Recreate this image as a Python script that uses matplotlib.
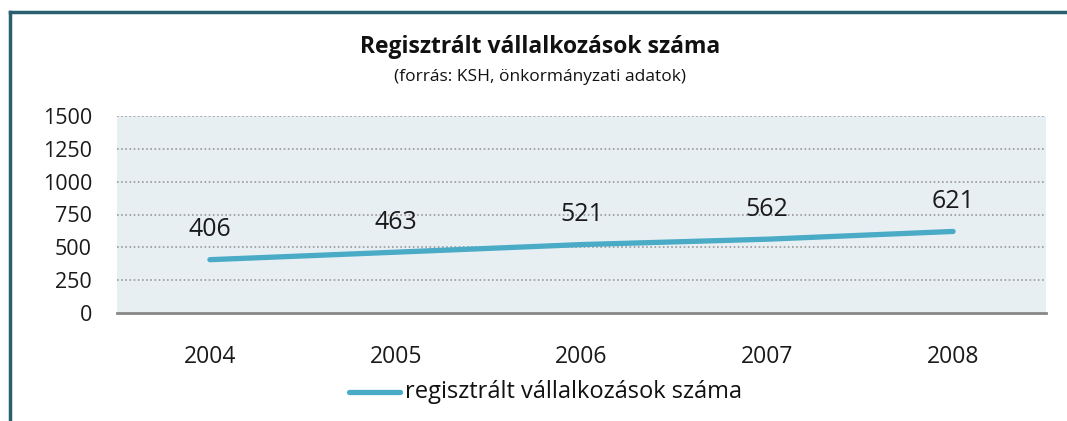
import matplotlib
matplotlib.use("Agg")
import matplotlib.pyplot as plt
from matplotlib.lines import Line2D

# data
years = ["2004", "2005", "2006", "2007", "2008"]
counts = [406, 463, 521, 562, 621]
yticks = [0, 250, 500, 750, 1000, 1250, 1500]

plt.rcParams["font.family"] = ["Open Sans", "DejaVu Sans"]

W, H = 1067, 421
fig = plt.figure(figsize=(W / 100, H / 100), dpi=100)
fig.patch.set_facecolor("white")

# plot area in pixels: left 117, right 1046, top 116, bottom 313
ax = fig.add_axes([117 / W, 1 - 313 / H, (1046 - 117) / W, (313 - 116) / H])
ax.set_facecolor("#e8eff3")

x = list(range(len(years)))
ax.plot(x, counts, color="#4aabc6", lw=3.8, solid_capstyle="round")
for xi, v in zip(x, counts):
    ax.annotate(str(v), (xi, v), xytext=(0, 17), textcoords="offset points",
                ha="center", va="baseline", fontsize=18, color="#1a1a1a")

ax.set_xlim(-0.5, len(years) - 0.5)
ax.set_ylim(0, 1500)
ax.set_yticks(yticks)
ax.set_yticklabels([str(t) for t in yticks], fontsize=15.5, color="#1a1a1a")
ax.set_xticks(x)
ax.set_xticklabels(years, fontsize=16.5, color="#1a1a1a")
ax.tick_params(axis="both", length=0)
ax.tick_params(axis="y", pad=18)
ax.tick_params(axis="x", pad=23)

for t in yticks[1:]:
    ax.axhline(t, color="#999999", lw=1.2, ls=(0, (1, 1.5)), zorder=0)

for s in ["top", "right", "left"]:
    ax.spines[s].set_visible(False)
ax.spines["bottom"].set_color("#888888")
ax.spines["bottom"].set_linewidth(2)

# titles
fig.text(540 / W, 1 - 47 / H, "Regisztrált vállalkozások száma", ha="center",
         va="center", fontsize=16.5, fontweight="bold", color="#111111")
fig.text(540 / W, 1 - 77 / H, "(forrás: KSH, önkormányzati adatok)", ha="center",
         va="center", fontsize=12.5, color="#111111")

# legend
fig.add_artist(Line2D([349 / W, 400 / W], [1 - 392 / H, 1 - 392 / H],
                      color="#4aabc6", lw=3.8, solid_capstyle="round"))
fig.text(405 / W, 1 - 392 / H, "regisztrált vállalkozások száma", ha="left",
         va="center", fontsize=17, color="#111111")

# frame lines
fig.add_artist(Line2D([9.5 / W, 9.5 / W], [0, 1 - 12 / H], color="#2a5f6e", lw=2.5))
fig.add_artist(Line2D([9.5 / W, 1], [1 - 12 / H, 1 - 12 / H], color="#2a5f6e", lw=2.5))

fig.savefig("out.png", dpi=100)
